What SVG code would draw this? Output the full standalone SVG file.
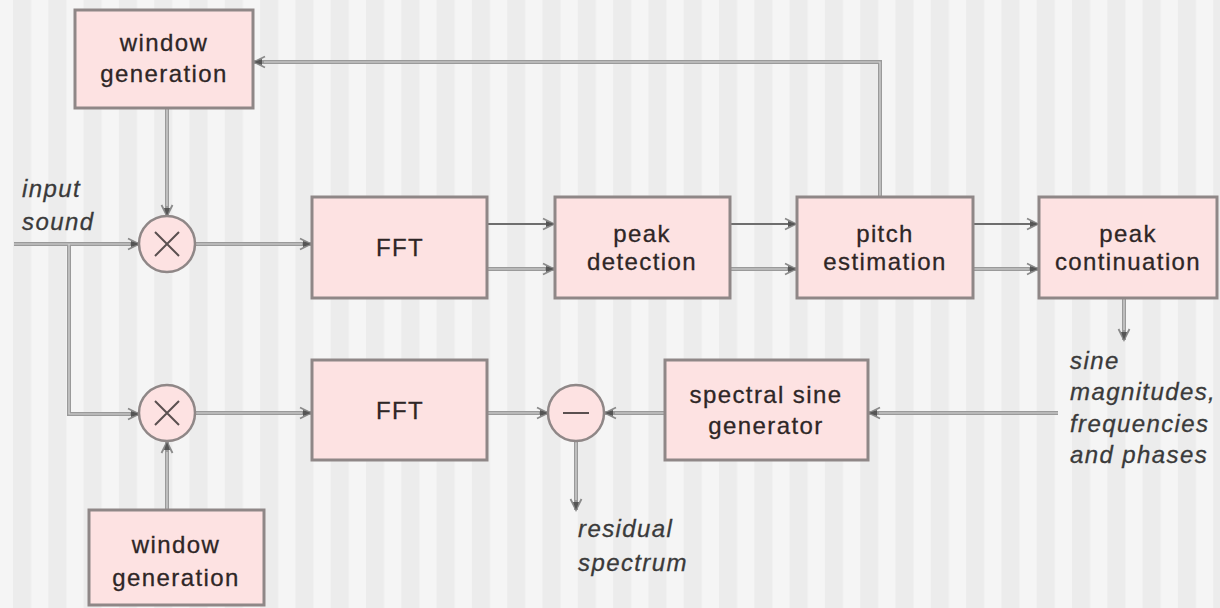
<svg xmlns="http://www.w3.org/2000/svg" width="1220" height="608" viewBox="0 0 1220 608">
<defs>
<pattern id="stripes" patternUnits="userSpaceOnUse" x="13" y="0" width="35.3" height="10">
<rect x="0" y="0" width="35.3" height="10" fill="#f5f5f5"/>
<rect x="0" y="0" width="18" height="10" fill="#ececec"/>
</pattern>
<marker id="arr" markerUnits="userSpaceOnUse" markerWidth="16" markerHeight="14" refX="14" refY="7" orient="auto" viewBox="0 0 16 14">
<path d="M3,1.5 L14,7 L3,12.5" fill="none" stroke="#8a8a8a" stroke-width="1.8"/>
<path d="M6,4 L14,7 L6,10 Z" fill="#555"/>
</marker>
</defs>
<style>
.box{fill:#fde2e2;stroke:#8f8787;stroke-width:3}
.circ{fill:#fde2e2;stroke:#8f8787;stroke-width:2.5}
.sym{stroke:#5a5050;stroke-width:2;fill:none}
.t{font-family:"Liberation Sans",Arial,sans-serif;font-size:24px;letter-spacing:1.4px;fill:#2e2626;stroke:#2e2626;stroke-width:0.3;text-anchor:middle}
.it{font-family:"Liberation Sans",Arial,sans-serif;font-size:24px;letter-spacing:1.4px;fill:#3a3a3a;stroke:#3a3a3a;stroke-width:0.3;font-style:italic}
.c{fill:none;stroke:#9a9a9a;stroke-width:4;marker-end:url(#arr)}
.ci{fill:none;stroke:#d6d6d6;stroke-width:1.2}
.d{fill:none;stroke:#6e6e6e;stroke-width:2.2;marker-end:url(#arr)}
</style>
<rect x="0" y="0" width="1220" height="608" fill="url(#stripes)"/>

<g id="connectors">
<path class="c" d="M14,244 H139"/>
<path class="c" d="M69,244 V414 H139"/>
<path class="c" d="M167,108 V216"/>
<path class="c" d="M196,244 H311"/>
<path class="d" d="M487,224 H554"/>
<path class="c" d="M487,269 H554"/>
<path class="d" d="M730,224 H796"/>
<path class="c" d="M730,269 H796"/>
<path class="d" d="M973,224 H1038"/>
<path class="c" d="M973,269 H1038"/>
<path class="c" d="M880,197 V62 H254"/>
<path class="c" d="M1124,298 V340"/>
<path class="c" d="M1058,413 H869"/>
<path class="c" d="M665,413 H605"/>
<path class="c" d="M487,413 H548"/>
<path class="c" d="M576,441 V510"/>
<path class="c" d="M196,413 H311"/>
<path class="c" d="M167,510 V442"/>
<path class="ci" d="M14,244 H130 M69,244 V414 H130 M167,108 V206 M196,244 H302 M487,269 H545 M730,269 H787 M973,269 H1029 M880,197 V62 H264 M1124,298 V330 M1058,413 H879 M665,413 H615 M487,413 H539 M576,441 V500 M196,413 H302 M167,510 V452"/>
</g>

<g id="window-generation-top">
<rect class="box" x="75" y="10" width="178" height="98"/>
<text class="t" x="164" y="51">window</text>
<text class="t" x="164" y="82">generation</text>
</g>
<g id="mult-top">
<circle class="circ" cx="167" cy="244" r="28"/>
<path class="sym" d="M155,232 L179,256 M179,232 L155,256"/>
</g>
<g id="fft-top">
<rect class="box" x="312" y="197" width="175" height="101"/>
<text class="t" x="400" y="256">FFT</text>
</g>
<g id="peak-detection">
<rect class="box" x="555" y="197" width="175" height="101"/>
<text class="t" x="642" y="242">peak</text>
<text class="t" x="642" y="270">detection</text>
</g>
<g id="pitch-estimation">
<rect class="box" x="797" y="197" width="176" height="101"/>
<text class="t" x="885" y="242">pitch</text>
<text class="t" x="885" y="270">estimation</text>
</g>
<g id="peak-continuation">
<rect class="box" x="1039" y="197" width="178" height="101"/>
<text class="t" x="1128" y="242">peak</text>
<text class="t" x="1128" y="270">continuation</text>
</g>
<g id="mult-bottom">
<circle class="circ" cx="167" cy="413" r="28"/>
<path class="sym" d="M155,401 L179,425 M179,401 L155,425"/>
</g>
<g id="fft-bottom">
<rect class="box" x="312" y="360" width="175" height="100"/>
<text class="t" x="400" y="419">FFT</text>
</g>
<g id="subtract">
<circle class="circ" cx="576" cy="413" r="28"/>
<path class="sym" d="M563,413 H589" stroke="#8a7a7a"/>
</g>
<g id="spectral-sine-generator">
<rect class="box" x="665" y="360" width="203" height="100"/>
<text class="t" x="766" y="403">spectral sine</text>
<text class="t" x="766" y="434">generator</text>
</g>
<g id="window-generation-bottom">
<rect class="box" x="89" y="510" width="175" height="95"/>
<text class="t" x="176" y="553">window</text>
<text class="t" x="176" y="586">generation</text>
</g>

<g id="labels">
<text class="it" x="22" y="197">input</text>
<text class="it" x="22" y="230">sound</text>
<text class="it" x="578" y="537">residual</text>
<text class="it" x="578" y="571">spectrum</text>
<text class="it" x="1070" y="369">sine</text>
<text class="it" x="1070" y="400">magnitudes,</text>
<text class="it" x="1070" y="432">frequencies</text>
<text class="it" x="1070" y="463">and phases</text>
</g>
</svg>
